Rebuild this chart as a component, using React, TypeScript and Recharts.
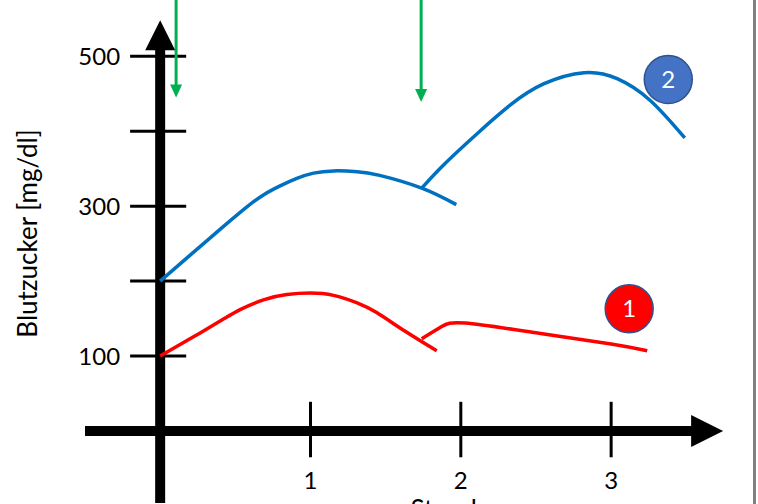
import React from 'react';
import { ComposedChart, Line, XAxis, YAxis, ReferenceLine, ReferenceDot } from 'recharts';

// Kurve 1 (rot), zwei Teilstücke
const red1Hours = [0, 0.19, 0.41, 0.532, 0.687, 0.843, 0.998, 1.153, 1.31, 1.44, 1.63, 1.84];
const red1Values = [100, 122, 148, 162, 175, 182, 184, 181, 171, 158, 133, 107];
const red2Hours = [1.74, 1.87, 2.03, 2.5, 3.0, 3.24];
const red2Values = [123, 139, 144, 131, 116, 107];

// Kurve 2 (blau), zwei Teilstücke
const blue1Hours = [0, 0.19, 0.41, 0.577, 0.687, 0.798, 0.909, 1.02, 1.153, 1.31, 1.46, 1.74, 1.97];
const blue1Values = [200, 233, 271, 299, 315, 327, 337, 344, 347, 346, 341, 324, 302];
const blue2Hours = [1.74, 1.885, 2.11, 2.33, 2.55, 2.82, 3.04, 3.26, 3.49];
const blue2Values = [324, 355, 397, 435, 463, 478, 470, 441, 391];

const yTicks = [100, 200, 300, 400, 500];
const yTickLabels = ['100', '', '300', '', '500'];
const xTicks = [1, 2, 3];

// grüne Pfeile (Mahlzeiten)
const mealHours = [0.106, 1.736];
const mealTips = [445, 439];

const badgeLabels = ['1', '2'];
const badgeHours = [3.12, 3.38];
const badgeValues = [163, 469];
const badgeColors = ['#FF0000', '#4472C4'];

const toPoints = (hours: number[], values: number[]) => hours.map((t, i) => ({ t, v: values[i] }));

const X_DOMAIN: [number, number] = [-0.5, 3.8];
const Y_DOMAIN: [number, number] = [-96, 575];

const upHead = (p: any) => (
  <polygon points={`${p.cx},${p.cy} ${p.cx - 15},${p.cy + 30} ${p.cx + 15},${p.cy + 30}`} fill="#000" />
);
const rightHead = (p: any) => (
  <polygon points={`${p.cx},${p.cy} ${p.cx - 32},${p.cy - 16} ${p.cx - 32},${p.cy + 16}`} fill="#000" />
);
const greenHead = (p: any) => (
  <polygon points={`${p.cx},${p.cy} ${p.cx - 6},${p.cy - 13} ${p.cx + 6},${p.cy - 13}`} fill="#00B050" />
);

export default function App() {
  return (
    <div
      style={{
        position: 'absolute',
        left: 0,
        top: 0,
        width: 758,
        height: 504,
        background: '#fff',
        overflow: 'hidden',
        fontFamily: 'Lato, "Open Sans", sans-serif',
      }}
    >
      <ComposedChart width={758} height={504} margin={{ top: 0, right: 26.6, bottom: 1, left: 25 }}>
        <XAxis
          type="number"
          dataKey="t"
          domain={X_DOMAIN}
          allowDataOverflow
          ticks={xTicks}
          tick={false}
          axisLine={false}
          tickLine={false}
          height={0}
        />
        <YAxis
          type="number"
          dataKey="v"
          domain={Y_DOMAIN}
          allowDataOverflow
          width={60}
          tick={false}
          axisLine={false}
          tickLine={false}
          label={{
            value: 'Blutzucker [mg/dl]',
            angle: -90,
            position: 'insideLeft',
            offset: 3,
            dy: -18,
            fontSize: 26,
            fill: '#000',
            style: { textAnchor: 'middle' },
          }}
        />

        {yTicks.map((v, i) => (
          <ReferenceLine
            key={'yt' + v}
            segment={[{ x: -0.2, y: v }, { x: 0.173, y: v }]}
            stroke="#000"
            strokeWidth={3}
            ifOverflow="visible"
            label={
              yTickLabels[i]
                ? { value: yTickLabels[i], position: 'left', offset: 10, fontSize: 24, fill: '#000' }
                : undefined
            }
          />
        ))}
        {xTicks.map((t) => (
          <ReferenceLine
            key={'xt' + t}
            segment={[{ x: t, y: -35 }, { x: t, y: 39 }]}
            stroke="#000"
            strokeWidth={3}
            ifOverflow="visible"
            label={{ value: String(t), position: 'bottom', offset: 15, fontSize: 24, fill: '#000' }}
          />
        ))}

        {/* Achsentitel unten, fast ganz abgeschnitten */}
        <ReferenceDot
          x={1.98}
          y={-93}
          r={0}
          ifOverflow="visible"
          label={{ value: 'Stunden', position: 'bottom', offset: 0, fontSize: 26, fill: '#000' }}
        />

        {/* dicke Achsen mit Pfeilspitzen */}
        <ReferenceLine segment={[{ x: 0, y: -96 }, { x: 0, y: 510 }]} stroke="#000" strokeWidth={10} ifOverflow="visible" />
        <ReferenceLine segment={[{ x: -0.5, y: 0 }, { x: 3.55, y: 0 }]} stroke="#000" strokeWidth={10} ifOverflow="visible" />
        <ReferenceDot x={0} y={548} r={0} shape={upHead} ifOverflow="visible" />
        <ReferenceDot x={3.745} y={0} r={0} shape={rightHead} ifOverflow="visible" />

        <Line data={toPoints(blue1Hours, blue1Values)} dataKey="v" type="natural" stroke="#0070C0" strokeWidth={3.5} dot={false} isAnimationActive={false} />
        <Line data={toPoints(blue2Hours, blue2Values)} dataKey="v" type="natural" stroke="#0070C0" strokeWidth={3.5} dot={false} isAnimationActive={false} />
        <Line data={toPoints(red1Hours, red1Values)} dataKey="v" type="natural" stroke="#FF0000" strokeWidth={3.5} dot={false} isAnimationActive={false} />
        <Line data={toPoints(red2Hours, red2Values)} dataKey="v" type="natural" stroke="#FF0000" strokeWidth={3.5} dot={false} isAnimationActive={false} />

        {mealHours.map((t, i) => (
          <ReferenceLine
            key={'m' + i}
            segment={[{ x: t, y: 580 }, { x: t, y: mealTips[i] + 14 }]}
            stroke="#00B050"
            strokeWidth={3}
            ifOverflow="visible"
          />
        ))}
        {mealHours.map((t, i) => (
          <ReferenceDot key={'mh' + i} x={t} y={mealTips[i]} r={0} shape={greenHead} ifOverflow="visible" />
        ))}

        {badgeLabels.map((lab, i) => (
          <ReferenceDot
            key={'b' + lab}
            x={badgeHours[i]}
            y={badgeValues[i]}
            r={24}
            fill={badgeColors[i]}
            stroke="#2F528F"
            strokeWidth={1.5}
            ifOverflow="visible"
            label={{ value: lab, position: 'center', fill: '#fff', fontSize: 24 }}
          />
        ))}
      </ComposedChart>
      <div style={{ position: 'absolute', left: 753, top: 0, width: 2.5, height: 504, background: '#808080' }} />
    </div>
  );
}
